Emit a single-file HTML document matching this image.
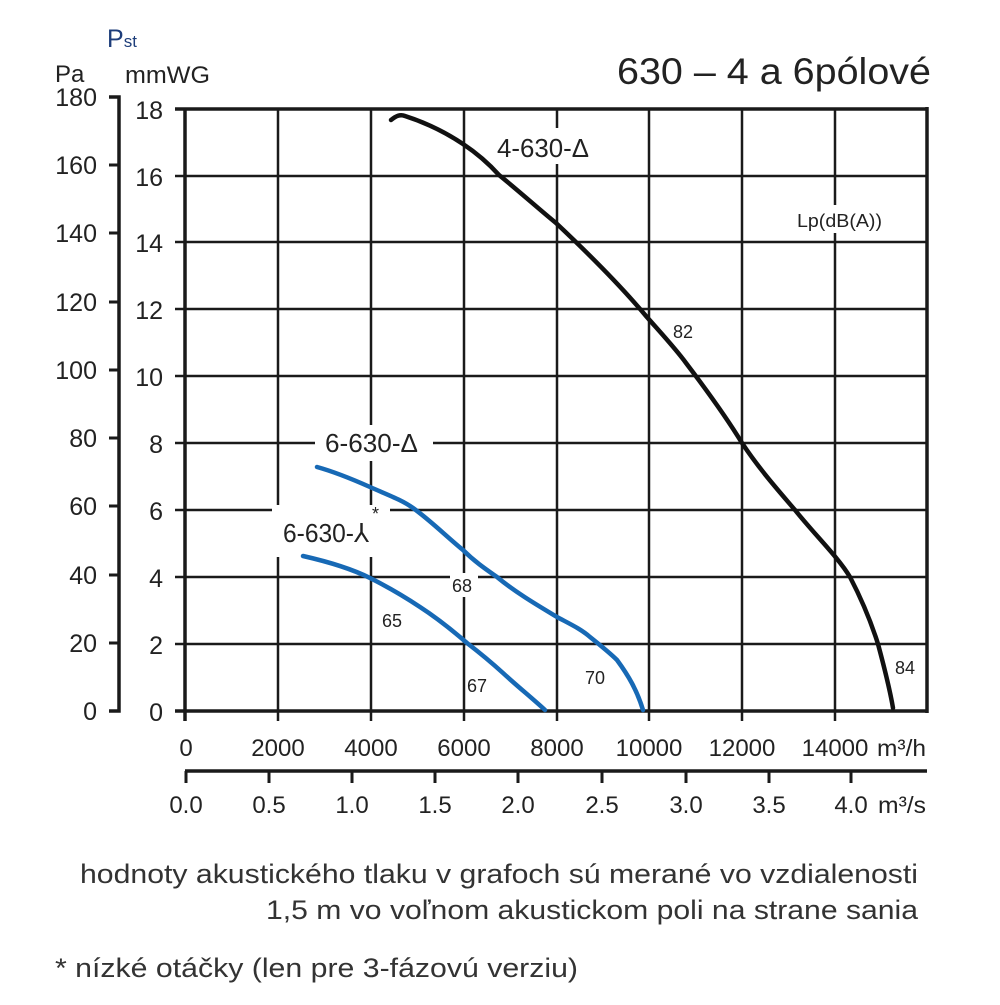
<!DOCTYPE html>
<html><head><meta charset="utf-8"><style>html,body{margin:0;padding:0;background:#fff}</style></head>
<body>
<svg width="1000" height="1000" viewBox="0 0 1000 1000" xmlns="http://www.w3.org/2000/svg" font-family="Liberation Sans, sans-serif" fill="#222">
<g stroke="#1a1a1a" stroke-width="2.5">
<line x1="175" y1="644" x2="927" y2="644"/><line x1="175" y1="577" x2="927" y2="577"/>
<line x1="175" y1="510" x2="927" y2="510"/><line x1="175" y1="443" x2="927" y2="443"/>
<line x1="175" y1="376" x2="927" y2="376"/><line x1="175" y1="309" x2="927" y2="309"/>
<line x1="175" y1="242" x2="927" y2="242"/><line x1="175" y1="176" x2="927" y2="176"/>
<line x1="278" y1="109" x2="278" y2="721"/><line x1="371" y1="109" x2="371" y2="721"/>
<line x1="464" y1="109" x2="464" y2="721"/><line x1="557" y1="109" x2="557" y2="721"/>
<line x1="649" y1="109" x2="649" y2="721"/><line x1="742" y1="109" x2="742" y2="721"/>
<line x1="835" y1="109" x2="835" y2="721"/>
</g>
<g stroke="#1a1a1a" stroke-width="3.5" fill="none">
<line x1="175" y1="109" x2="927" y2="109"/>
<line x1="175" y1="711" x2="927" y2="711"/>
<line x1="185" y1="109" x2="185" y2="721"/>
<line x1="927" y1="107" x2="927" y2="713"/>
<polyline points="109,97 119,97 119,711 109,711"/>
<line x1="185" y1="771" x2="927" y2="771"/>
</g>
<g stroke="#1a1a1a" stroke-width="3">
<line x1="109" y1="165" x2="119" y2="165"/><line x1="109" y1="233" x2="119" y2="233"/>
<line x1="109" y1="302" x2="119" y2="302"/><line x1="109" y1="370" x2="119" y2="370"/>
<line x1="109" y1="438" x2="119" y2="438"/><line x1="109" y1="506" x2="119" y2="506"/>
<line x1="109" y1="575" x2="119" y2="575"/><line x1="109" y1="643" x2="119" y2="643"/>
<line x1="186" y1="771" x2="186" y2="783"/><line x1="269" y1="771" x2="269" y2="783"/>
<line x1="352" y1="771" x2="352" y2="783"/><line x1="435" y1="771" x2="435" y2="783"/>
<line x1="518" y1="771" x2="518" y2="783"/><line x1="602" y1="771" x2="602" y2="783"/>
<line x1="686" y1="771" x2="686" y2="783"/><line x1="769" y1="771" x2="769" y2="783"/>
<line x1="851" y1="771" x2="851" y2="783"/>
</g>
<g fill="#fff">
<rect x="315" y="425" width="118" height="36"/>
<rect x="272" y="505" width="118" height="52"/>
<rect x="490" y="128" width="104" height="36"/>
<rect x="792" y="205" width="94" height="28"/>
<rect x="450" y="573" width="28" height="24"/>
</g>
<g fill="none" stroke-linecap="round" stroke-linejoin="round">
<path d="M391,120 C396,116 400,114 405,116 C430,124 448,134 463,144 C478,154 490,165 499,175 C520,192 540,210 556,223 C590,255 620,285 646,316 C660,332 675,348 686,363 C705,388 725,415 742,443 C760,470 778,490 795,510 C815,535 838,557 850,577 C862,600 872,625 878,644 C885,670 890,690 893,708" stroke="#111" stroke-width="4.5"/>
<path d="M317,467 C335,472 352,479 370,487 C388,495 402,500 413,508 C430,520 447,537 463,550 C475,562 487,570 497,577 C515,592 537,605 557,617 C570,624 581,629 590,637 C600,645 610,653 617,660 C628,675 637,690 643,710" stroke="#1769b5" stroke-width="4.5"/>
<path d="M303,556 C325,561 350,568 370,578 C388,587 405,597 420,607 C437,618 452,630 467,643 C480,653 492,663 503,673 C517,686 532,698 545,710" stroke="#1769b5" stroke-width="4.5"/>
</g>
<g font-size="25" text-anchor="end">
<text x="97" y="106">180</text><text x="97" y="174">160</text><text x="97" y="242">140</text>
<text x="97" y="311">120</text><text x="97" y="379">100</text><text x="97" y="447">80</text>
<text x="97" y="515">60</text><text x="97" y="584">40</text><text x="97" y="652">20</text>
<text x="97" y="720">0</text>
<text x="163" y="119">18</text><text x="163" y="186">16</text><text x="163" y="252">14</text>
<text x="163" y="319">12</text><text x="163" y="386">10</text><text x="163" y="453">8</text>
<text x="163" y="520">6</text><text x="163" y="587">4</text><text x="163" y="654">2</text>
<text x="163" y="721">0</text>
</g>
<g font-size="24" text-anchor="middle">
<text x="186" y="756">0</text><text x="278" y="756">2000</text><text x="371" y="756">4000</text>
<text x="464" y="756">6000</text><text x="557" y="756">8000</text><text x="649" y="756">10000</text>
<text x="742" y="756">12000</text><text x="835" y="756">14000</text>
<text x="186" y="813">0.0</text><text x="269" y="813">0.5</text><text x="352" y="813">1.0</text>
<text x="435" y="813">1.5</text><text x="518" y="813">2.0</text><text x="602" y="813">2.5</text>
<text x="686" y="813">3.0</text><text x="769" y="813">3.5</text><text x="851" y="813">4.0</text>
</g>
<text x="877" y="756" font-size="23" textLength="49" lengthAdjust="spacingAndGlyphs">m³/h</text>
<text x="878" y="813" font-size="23" textLength="48" lengthAdjust="spacingAndGlyphs">m³/s</text>
<text x="55" y="82" font-size="24">Pa</text>
<text x="107" y="47" font-size="25" fill="#1d3d7a">P<tspan font-size="17">st</tspan></text>
<text x="125" y="83" font-size="24" textLength="85" lengthAdjust="spacingAndGlyphs">mmWG</text>
<text x="617" y="84" font-size="37" textLength="314" lengthAdjust="spacingAndGlyphs">630 – 4 a 6pólové</text>
<text x="497" y="157" font-size="26" textLength="92" lengthAdjust="spacingAndGlyphs">4-630-Δ</text>
<text x="797" y="227" font-size="18" textLength="85" lengthAdjust="spacingAndGlyphs">Lp(dB(A))</text>
<text x="673" y="338" font-size="18">82</text>
<text x="895" y="674" font-size="18">84</text>
<text x="325" y="452" font-size="26" textLength="93" lengthAdjust="spacingAndGlyphs">6-630-Δ</text>
<text x="283" y="542" font-size="26" textLength="86" lengthAdjust="spacingAndGlyphs">6-630-⅄</text>
<text x="372" y="520" font-size="18">*</text>
<text x="452" y="592" font-size="18">68</text>
<text x="382" y="627" font-size="18">65</text>
<text x="467" y="692" font-size="18">67</text>
<text x="585" y="684" font-size="18">70</text>
<text x="80" y="883" font-size="27" textLength="838" lengthAdjust="spacingAndGlyphs" fill="#333">hodnoty akustického tlaku v grafoch sú merané vo vzdialenosti</text>
<text x="266" y="919" font-size="27" textLength="652" lengthAdjust="spacingAndGlyphs" fill="#333">1,5 m vo voľnom akustickom poli na strane sania</text>
<text x="55" y="977" font-size="27" textLength="523" lengthAdjust="spacingAndGlyphs" fill="#333">* nízké otáčky (len pre 3-fázovú verziu)</text>
</svg>
</body></html>
